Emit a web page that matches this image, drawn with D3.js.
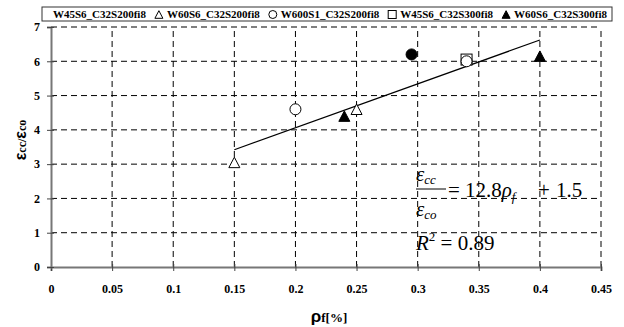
<!DOCTYPE html>
<html>
<head>
<meta charset="utf-8">
<script src="https://cdn.jsdelivr.net/npm/d3@7"></script>
<style>
  body { margin: 0; background: #fff; }
  svg { display: block; }
</style>
</head>
<body>
<svg width="624" height="327"></svg>
<script>
// Series names (legend order)
const seriesNames = ["W45S6_C32S200fi8", "W60S6_C32S200fi8", "W600S1_C32S200fi8", "W45S6_C32S300fi8", "W60S6_C32S300fi8"];
const seriesMarkers = ["circleFilled", "triangleOpen", "circleOpen", "squareOpen", "triangleFilled"];

// Data points per series (fibre ratio %, strain ratio)
const s1X = [0.295], s1Y = [6.2];
const s2X = [0.15, 0.25], s2Y = [3.05, 4.6];
const s3X = [0.2, 0.34], s3Y = [4.6, 6.0];
const s4X = [0.34], s4Y = [6.05];
const s5X = [0.24, 0.4], s5Y = [4.4, 6.15];

// Linear fit endpoints
const fitX = [0.15, 0.4];
const fitY = [3.42, 6.62];

const xTicks = [0, 0.05, 0.1, 0.15, 0.2, 0.25, 0.3, 0.35, 0.4, 0.45];
const yTicks = [0, 1, 2, 3, 4, 5, 6, 7];

const serif = "'Liberation Serif', 'Times New Roman', serif";
const sans = "'Liberation Sans', Arial, sans-serif";

const plot = { left: 51, right: 601, top: 27, bottom: 267 };

const svg = d3.select("svg");

const x = d3.scaleLinear().domain([0, 0.45]).range([plot.left, plot.right]);
const y = d3.scaleLinear().domain([0, 7]).range([plot.bottom, plot.top]);

// Dashed grid
svg.append("g").selectAll("line")
  .data(yTicks.slice(1))
  .join("line")
  .attr("x1", plot.left).attr("x2", plot.right)
  .attr("y1", d => y(d)).attr("y2", d => y(d))
  .attr("stroke", "#000").attr("stroke-width", 1)
  .attr("stroke-dasharray", "6,4");

svg.append("g").selectAll("line")
  .data(xTicks.slice(1))
  .join("line")
  .attr("x1", d => x(d)).attr("x2", d => x(d))
  .attr("y1", plot.bottom).attr("y2", plot.top)
  .attr("stroke", "#000").attr("stroke-width", 1)
  .attr("stroke-dasharray", "6,4");

// Axes
const xAxis = svg.append("g")
  .attr("transform", `translate(0,${plot.bottom})`)
  .call(d3.axisBottom(x).tickValues(xTicks).tickSize(4).tickFormat(d3.format("")));
const yAxis = svg.append("g")
  .attr("transform", `translate(${plot.left},0)`)
  .call(d3.axisLeft(y).tickValues(yTicks).tickSize(4).tickFormat(d3.format("d")));

[xAxis, yAxis].forEach(g => {
  g.attr("font-family", null).attr("font-size", null);
  g.select(".domain").attr("stroke", "#777").attr("stroke-width", 2);
  g.selectAll(".tick line").attr("stroke", "#444");
  g.selectAll(".tick text")
    .style("font-family", serif).style("font-weight", "bold").style("font-size", "12px")
    .attr("fill", "#000");
});
xAxis.selectAll(".tick line").attr("y1", -3);
yAxis.selectAll(".tick line").attr("x1", 3);
xAxis.selectAll(".tick text").attr("y", 26).attr("dy", 0);
yAxis.selectAll(".tick text").attr("x", -11);

// Axis titles
const xt = svg.append("text")
  .attr("x", 329).attr("y", 322)
  .attr("text-anchor", "middle");
xt.append("tspan").style("font-family", sans).style("font-weight", "bold").style("font-size", "17px").text("ρ");
xt.append("tspan").style("font-family", serif).style("font-weight", "bold").style("font-size", "13px").text("f[%]");

const yt = svg.append("text")
  .attr("transform", "translate(26,140) rotate(-90)")
  .attr("text-anchor", "middle");
yt.append("tspan").style("font-family", sans).style("font-weight", "bold").style("font-size", "16px").text("ε");
yt.append("tspan").style("font-family", serif).style("font-weight", "bold").style("font-size", "12px").text("cc/");
yt.append("tspan").style("font-family", sans).style("font-weight", "bold").style("font-size", "16px").text("ε");
yt.append("tspan").style("font-family", serif).style("font-weight", "bold").style("font-size", "12px").text("co");

// Fit line
svg.append("line")
  .attr("x1", x(fitX[0])).attr("y1", y(fitY[0]))
  .attr("x2", x(fitX[1])).attr("y2", y(fitY[1]))
  .attr("stroke", "#000").attr("stroke-width", 1.2);

// Marker drawing helper
function drawMarker(g, type, cx, cy, s) {
  if (type.startsWith("circle")) {
    g.append("circle").attr("cx", cx).attr("cy", cy).attr("r", s * 0.5)
      .attr("fill", type.endsWith("Filled") ? "#000" : "#fff")
      .attr("stroke", "#000").attr("stroke-width", 1);
  } else if (type.startsWith("triangle")) {
    const h = s * 0.95;
    g.append("path")
      .attr("d", `M${cx},${cy - h / 2}L${cx + s / 2},${cy + h / 2}L${cx - s / 2},${cy + h / 2}Z`)
      .attr("fill", type.endsWith("Filled") ? "#000" : "#fff")
      .attr("stroke", "#000").attr("stroke-width", 1);
  } else {
    g.append("rect").attr("x", cx - s / 2).attr("y", cy - s / 2).attr("width", s).attr("height", s)
      .attr("fill", "#fff").attr("stroke", "#000").attr("stroke-width", 1);
  }
}

// Points (square behind the circle at 0.34)
const allSeries = [
  { xs: s1X, ys: s1Y, m: seriesMarkers[0] },
  { xs: s4X, ys: s4Y, m: seriesMarkers[3] },
  { xs: s2X, ys: s2Y, m: seriesMarkers[1] },
  { xs: s3X, ys: s3Y, m: seriesMarkers[2] },
  { xs: s5X, ys: s5Y, m: seriesMarkers[4] }
];
const pts = svg.append("g");
allSeries.forEach(s => {
  s.xs.forEach((v, i) => drawMarker(pts, s.m, x(v), y(s.ys[i]), 11));
});

// Legend: texts spread between 53 and 607, marker just before each text
const legend = svg.append("g");
legend.append("rect")
  .attr("x", 42).attr("y", 7).attr("width", 570).attr("height", 14)
  .attr("fill", "#fff").attr("stroke", "#333").attr("stroke-width", 1);
const legTexts = seriesNames.map(name => legend.append("text")
  .attr("y", 18)
  .style("font-family", serif)
  .style("font-weight", "bold").style("font-size", "11px")
  .text(name));
const widths = legTexts.map(t => t.node().getComputedTextLength());
const gap = (607 - 53 - d3.sum(widths)) / (seriesNames.length - 1);
let lx = 53;
legTexts.forEach((t, i) => {
  if (i > 0) drawMarker(legend, seriesMarkers[i], lx - 8, 14.5, 8);
  t.attr("x", lx);
  lx += widths[i] + gap;
});

// Regression equation
const eq = svg.append("g").style("font-family", serif).attr("fill", "#000");
const num = eq.append("text").attr("x", 416).attr("y", 181).style("font-size", "21px").style("font-style", "italic");
num.append("tspan").text("ε");
num.append("tspan").style("font-size", "13px").attr("dy", 3).text("cc");
eq.append("line").attr("x1", 416).attr("x2", 446).attr("y1", 189).attr("y2", 189)
  .attr("stroke", "#000").attr("stroke-width", 1);
const den = eq.append("text").attr("x", 416).attr("y", 216).style("font-size", "21px").style("font-style", "italic");
den.append("tspan").text("ε");
den.append("tspan").style("font-size", "13px").attr("dy", 3).text("co");

const rhs = eq.append("text").attr("y", 197).style("font-size", "21px");
rhs.append("tspan").attr("x", 448).text("=");
rhs.append("tspan").attr("x", 465).text("12.8");
rhs.append("tspan").style("font-style", "italic").text("ρ");
rhs.append("tspan").style("font-style", "italic").style("font-size", "13px").attr("dy", 4).text("f");
rhs.append("tspan").attr("x", 538).attr("dy", -4).text("+");
rhs.append("tspan").attr("x", 556).text("1.5");

const r2 = eq.append("text").attr("x", 416).attr("y", 250).style("font-size", "21px");
r2.append("tspan").style("font-style", "italic").text("R");
r2.append("tspan").style("font-size", "13px").attr("dy", -9).text("2");
r2.append("tspan").attr("dy", 9).text(" = 0.89");
</script>
</body>
</html>
